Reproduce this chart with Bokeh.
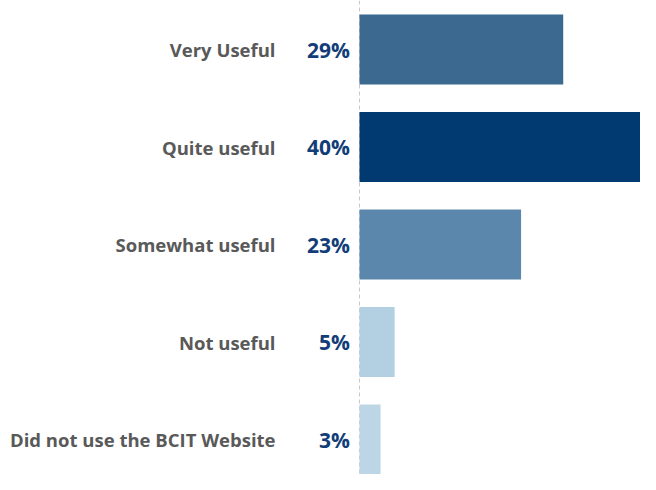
from bokeh.plotting import figure
from bokeh.models import ColumnDataSource, Range1d, Span
from bokeh.core.properties import value
from bokeh.embed import file_html
from bokeh.resources import INLINE

categories = ["Very Useful", "Quite useful", "Somewhat useful", "Not useful", "Did not use the BCIT Website"]
percents = [29, 40, 23, 5, 3]
colors = ["#3b6990", "#003a70", "#5b87ad", "#b3cfe2", "#bcd6e6"]

n = len(categories)
ypos = [n - 1 - i for i in range(n)]
labels = [f"{v}%" for v in percents]

src = ColumnDataSource(dict(y=ypos, v=percents, cat=categories, lab=labels,
                            color=colors, zero=[0] * n))

p = figure(width=640, height=474, output_backend="svg", toolbar_location=None,
           x_range=Range1d(-51.1, 40), y_range=Range1d(-0.359, 4.503),
           min_border=0, min_border_left=0, min_border_right=0,
           min_border_top=0, min_border_bottom=0)
p.axis.visible = False
p.grid.visible = False
p.outline_line_color = None
p.background_fill_color = "white"
p.border_fill_color = "white"

span = Span(location=0, dimension="height", line_color="#c8c8c8",
            line_dash="4 3", line_width=1, level="underlay")
p.add_layout(span)

p.hbar(y="y", left="zero", right="v", height=0.718, color="color", source=src,
       line_color=None)

p.text(x="zero", y="y", text="lab", source=src, x_offset=-9.5,
       text_align="right", text_baseline="middle",
       text_font=value("Open Sans"), text_font_style="bold",
       text_font_size="21px", text_color="#123d78")

p.text(x="zero", y="y", text="cat", source=src, x_offset=-84,
       text_align="right", text_baseline="middle",
       text_font=value("Open Sans"), text_font_style="bold",
       text_font_size="18.5px", text_color="#595959")

open("out.html", "w").write(file_html(p, INLINE))
